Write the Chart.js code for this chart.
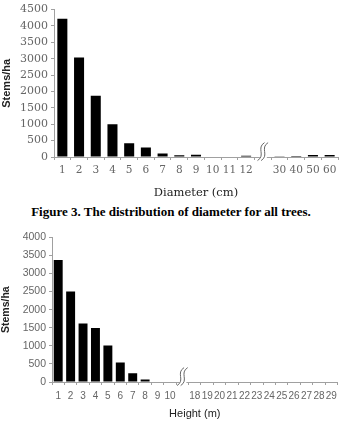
<!DOCTYPE html>
<html>
<head>
<meta charset="utf-8">
<script src="https://cdn.jsdelivr.net/npm/chart.js@4.4.1/dist/chart.umd.min.js"></script>
<style>
  html, body { margin: 0; padding: 0; background: #fff; }
  body { width: 342px; height: 421px; position: relative; overflow: hidden; }
  #diaBox { position: absolute; left: 0; top: 0; width: 342px; height: 200px; }
  #hgtBox { position: absolute; left: 0; top: 228px; width: 342px; height: 193px; }
  .caption {
    position: absolute; left: 0; top: 204px; width: 342px; text-align: center;
    font-family: 'Liberation Serif', 'Times New Roman', serif; font-weight: bold;
    font-size: 13px; color: #000;
  }
</style>
</head>
<body>
<div id="diaBox"><canvas id="diaChart" width="342" height="200"></canvas></div>
<div class="caption">Figure 3. The distribution of diameter for all trees.</div>
<div id="hgtBox"><canvas id="hgtChart" width="342" height="193"></canvas></div>
<script>
/* ── datos ─────────────────────────────────────────────────────────── */
// diámetro: '' = hueco del corte de eje (12 → 30)
const diameterLabels = ['1', '2', '3', '4', '5', '6', '7', '8', '9', '10', '11', '12', '', '30', '40', '50', '60'];
const diameterStems  = [4220, 3040, 1870, 1000, 420, 290, 110, 50, 70, 15, 0, 40, null, 20, 30, 60, 60];
const diameterTicks  = [0, 500, 1000, 1500, 2000, 2500, 3000, 3500, 4000, 4500];

// altura: '' = hueco del corte de eje (10 → 18)
const heightLabels = ['1', '2', '3', '4', '5', '6', '7', '8', '9', '10', '', '18', '19', '20', '21', '22', '23', '24', '25', '26', '27', '28', '29'];
const heightStems  = [3370, 2500, 1620, 1490, 1010, 540, 240, 70, 15, 0, null, 0, 0, 0, 15, 0, 0, 15, 15, 0, 15, 0, 0];
const heightTicks  = [0, 500, 1000, 1500, 2000, 2500, 3000, 3500, 4000];

const AXIS = '#a0a0a0';
const TICK_TXT = '#666';

/* Dibuja la marca de corte (doble S) sobre el eje X en la categoría vacía */
const axisBreak = {
  id: 'axisBreak',
  afterDraw(chart, args, opts) {
    const xs = chart.scales.x;
    const idx = chart.data.labels.indexOf('');
    if (idx < 0) return;
    const x = xs.getPixelForValue(idx);
    const y = chart.chartArea.bottom;
    const ctx = chart.ctx;
    const h = opts.h, w = opts.w;
    ctx.save();
    // tapa el eje debajo de la marca
    ctx.fillStyle = '#fff';
    ctx.fillRect(x - 3, y - 2, 7, 4);
    ctx.strokeStyle = '#666';
    ctx.lineWidth = 1;
    [-1.8, 1.8].forEach(function (dx) {
      ctx.beginPath();
      ctx.moveTo(x + dx + w * 0.7, y - h * 0.8);
      ctx.bezierCurveTo(x + dx - w, y - h * 0.5, x + dx + w, y - h * 0.1, x + dx - w * 0.7, y + h * 0.2);
      ctx.stroke();
    });
    ctx.restore();
  }
};

function buildChart(el, labels, values, ticks, cfg) {
  return new Chart(el.getContext('2d'), {
    type: 'bar',
    data: {
      labels: labels,
      datasets: [{
        data: values,
        backgroundColor: '#000',
        borderWidth: 0,
        categoryPercentage: 1,
        barPercentage: cfg.barPct,
      }],
    },
    options: {
      responsive: false,
      animation: false,
      layout: { padding: { top: cfg.padTop, right: cfg.padRight, left: 0, bottom: 0 } },
      plugins: {
        legend: { display: false },
        tooltip: { enabled: false },
        axisBreak: { w: cfg.breakW, h: cfg.breakH },
      },
      scales: {
        x: {
          grid: { display: true, drawOnChartArea: false, drawTicks: true, tickLength: 3, color: AXIS, offset: true },
          border: { display: true, color: AXIS },
          ticks: { color: TICK_TXT, font: cfg.xFont, autoSkip: false, maxRotation: 0, padding: cfg.xTickPad },
          title: { display: true, text: cfg.xTitle, color: '#222', font: cfg.titleFont, padding: { top: cfg.xTitlePad, bottom: 0 } },
          afterFit: (s) => { s.height = cfg.xHeight; },
        },
        y: {
          min: 0,
          max: ticks[ticks.length - 1],
          afterBuildTicks: (s) => { s.ticks = ticks.map(v => ({ value: v })); },
          grid: { display: true, drawOnChartArea: false, drawTicks: true, tickLength: 3, color: AXIS },
          border: { display: true, color: AXIS },
          ticks: { color: TICK_TXT, font: cfg.yFont, padding: 3, autoSkip: false, callback: (v) => String(v) },
          title: { display: true, text: 'Stems/ha', color: '#222', font: cfg.yTitleFont, padding: { top: 0, bottom: 0 } },
          afterFit: (s) => { s.width = cfg.yWidth; },
        },
      },
    },
    plugins: [axisBreak],
  });
}

/* ── 1) diámetro ───────────────────────────────────────────────────── */
buildChart(document.getElementById('diaChart'), diameterLabels, diameterStems, diameterTicks, {
  barPct: 0.6,
  padTop: 0,
  padRight: 4,
  yWidth: 54,
  xHeight: 43,
  xTickPad: 4,
  xTitlePad: 3,
  xTitle: 'Diameter (cm)',
  yFont: { family: "'DejaVu Serif', serif", size: 11 },
  xFont: { family: "'DejaVu Serif', serif", size: 10.5 },
  titleFont: { family: "'DejaVu Serif', serif", size: 11.5 },
  yTitleFont: { family: "'Liberation Sans', Arial, sans-serif", size: 11, weight: 'bold' },
  breakW: 5, breakH: 18,
});

/* ── 2) altura ─────────────────────────────────────────────────────── */
buildChart(document.getElementById('hgtChart'), heightLabels, heightStems, heightTicks, {
  barPct: 0.72,
  padTop: 5,
  padRight: 3,
  yWidth: 52,
  xHeight: 39,
  xTickPad: 5,
  xTitlePad: 5,
  xTitle: 'Height (m)',
  yFont: { family: "'Liberation Sans', Arial, sans-serif", size: 10.5 },
  xFont: { family: "'Liberation Sans', Arial, sans-serif", size: 10 },
  titleFont: { family: "'Liberation Sans', Arial, sans-serif", size: 11 },
  yTitleFont: { family: "'Liberation Sans', Arial, sans-serif", size: 10.5, weight: 'bold' },
  breakW: 5, breakH: 18,
});
</script>
</body>
</html>
